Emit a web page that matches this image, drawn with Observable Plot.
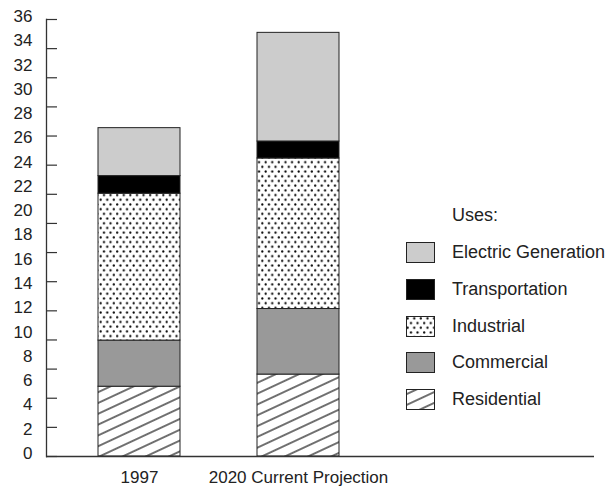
<!DOCTYPE html>
<html>
<head>
<meta charset="utf-8">
<script src="https://cdn.jsdelivr.net/npm/d3@7"></script>
<script src="https://cdn.jsdelivr.net/npm/@observablehq/plot@0.6"></script>
<style>
  body { margin: 0; background: #fff; font-family: "Liberation Sans", Arial, Helvetica, sans-serif; }
  #wrap { position: relative; width: 611px; height: 486px; }
  #legend { position: absolute; left: 0; top: 0; width: 611px; height: 486px; pointer-events: none; }
  .lg-title, .lg-row { position: absolute; font-size: 18px; color: #222; }
  .lg-row { display: flex; align-items: center; }
  .lg-row svg { display: block; margin-right: 17px; }
</style>
</head>
<body>
<svg width="0" height="0" style="position:absolute">
  <defs>
    <pattern id="dots" patternUnits="userSpaceOnUse" width="6.6" height="9.4">
      <rect width="6.6" height="9.4" fill="#fff"/>
      <circle cx="1.65" cy="2.35" r="1.1" fill="#000"/>
      <circle cx="4.95" cy="7.05" r="1.1" fill="#000"/>
    </pattern>
    <pattern id="hatch" patternUnits="userSpaceOnUse" width="10" height="9.8" patternTransform="rotate(-25)">
      <rect width="10" height="9.8" fill="#fff"/>
      <line x1="-1" y1="4.9" x2="11" y2="4.9" stroke="#000" stroke-width="1.1"/>
    </pattern>
  </defs>
</svg>
<div id="wrap"><div id="legend"></div></div>
<script>
// ---- data ----
const categories = ["1997", "2020 Current Projection"];
const uses = ["Residential", "Commercial", "Industrial", "Transportation", "Electric Generation"];
const values1997 = [5.75, 3.8, 12.1, 1.45, 3.95];
const values2020 = [6.75, 5.4, 12.4, 1.4, 8.95];
const yTickLabels = [0, 2, 4, 6, 8, 10, 12, 14, 16, 18, 20, 22, 24, 26, 28, 30, 32, 34, 36];
const yTickMarks = [0, 2.4, 4.8, 7.2, 9.6, 12, 14.4, 16.8, 19.2, 21.6, 24, 26.4, 28.8, 31.2, 33.6, 36];
const fills = ["url(#hatch)", "#999999", "url(#dots)", "#000000", "#cccccc"];
const legendTitle = "Uses:";

const seriesByCat = [values1997, values2020];
const data = [];
categories.forEach((c, i) => uses.forEach((u, j) => data.push({year: c, use: u, value: seriesByCat[i][j]})));

const font = "'Liberation Sans', Arial, Helvetica, sans-serif";

const chart = Plot.plot({
  width: 611,
  height: 486,
  marginLeft: 46,
  marginRight: 17,
  marginTop: 19,
  marginBottom: 30,
  style: {fontFamily: font, fontSize: "17px", color: "#222", background: "#fff"},
  x: {type: "band", domain: categories, range: [97.3, 340], paddingInner: 0.482, paddingOuter: 0},
  y: {domain: [0, 36]},
  color: {type: "ordinal", domain: uses, range: fills},
  marks: [
    Plot.barY(data, {x: "year", y: "value", fill: "use", stroke: "#222", strokeWidth: 1}),
    Plot.frame({anchor: "left", stroke: "#333", strokeWidth: 1.3}),
    Plot.ruleY([0], {stroke: "#333", strokeWidth: 1.5}),
    Plot.axisY(yTickMarks, {tickSize: 11, dx: 11, tickFormat: () => "", stroke: "#333", strokeWidth: 1.2, label: null}),
    Plot.axisY(yTickLabels, {tickSize: 0, tickPadding: 14, dy: -3, fontSize: 17, label: null, fill: "#222"}),
    Plot.axisX({tickSize: 0, tickPadding: 14, fontSize: 17, label: null, fill: "#222"})
  ]
});
document.getElementById("wrap").prepend(chart);

// ---- legend (HTML overlay) ----
const legend = document.getElementById("legend");
const t = document.createElement("div");
t.className = "lg-title";
t.textContent = legendTitle;
t.style.left = "452px";
t.style.top = "205px";
legend.appendChild(t);
const order = uses.slice().reverse();
order.forEach((u, i) => {
  const row = document.createElement("div");
  row.className = "lg-row";
  row.style.left = "406px";
  row.style.top = (242 + i * 36.75) + "px";
  const f = fills[uses.indexOf(u)];
  row.innerHTML = `<svg width="29" height="21"><rect x="0.5" y="0.5" width="28" height="20" fill="${f}" stroke="#222" stroke-width="1"/></svg><span>${u}</span>`;
  legend.appendChild(row);
});
</script>
</body>
</html>
